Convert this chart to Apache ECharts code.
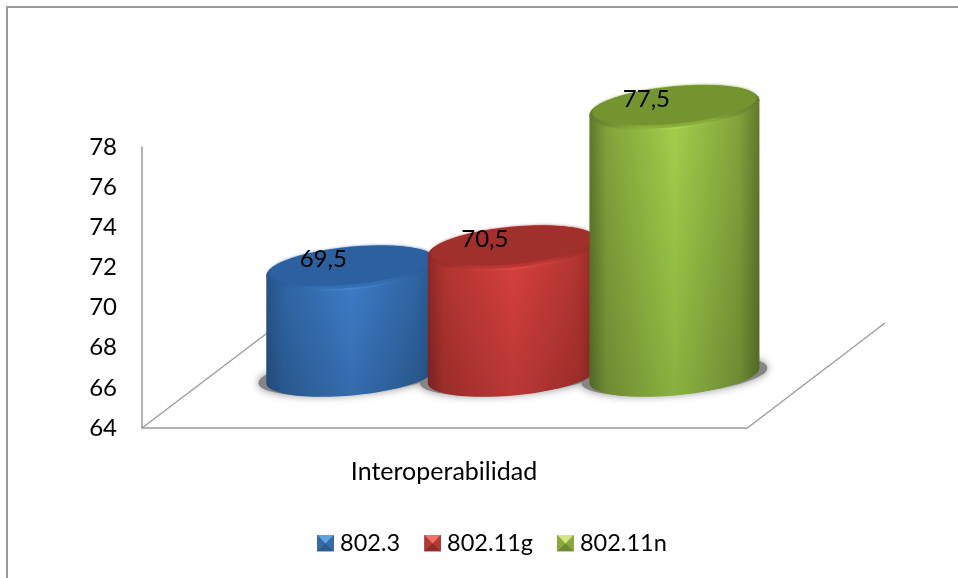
<!DOCTYPE html>
<html>
<head>
<meta charset="utf-8">
<style>html,body{margin:0;padding:0;background:#fff}#c{width:958px;height:578px}</style>
<script src="https://cdn.jsdelivr.net/npm/echarts@6/dist/echarts.min.js"></script>
</head>
<body>
<div id="c"></div>
<script>
var categories = ['Interoperabilidad'];
var seriesNames = ['802.3', '802.11g', '802.11n'];
var values8023 = [69.5];
var values80211g = [70.5];
var values80211n = [77.5];
var seriesValues = [values8023, values80211g, values80211n];
var yTickMin = 64, yTickMax = 78, yTickStep = 2;

var FONT = 'Lato, "Open Sans", sans-serif';
var palettes = [
  {edge:'#27568f', mid:'#3068a6', light:'#3f80cf', face:'#2c609e', rim:'#3570b4', hi:'#4386d2', icon:['#5fa2e6','#386aa6','#2f5c90']},
  {edge:'#8f2926', mid:'#b83632', light:'#dc423e', face:'#a12f2b', rim:'#c23733', hi:'#de4a45', icon:['#f0706a','#b03a36','#8f2d2a']},
  {edge:'#5f7a2d', mid:'#83a53b', light:'#a4d24b', face:'#74942f', rim:'#8bb03c', hi:'#aad64f', icon:['#cfe87e','#8aa83f','#6d8a30']}
];
var RX = 85, RY = 20, SHEAR = 7.5;

function iconFor(p) {
  var svg = '<svg xmlns="http://www.w3.org/2000/svg" width="17" height="17">' +
    '<rect width="17" height="17" fill="' + p.icon[1] + '"/>' +
    '<polygon points="0,0 17,0 8.5,9" fill="' + p.icon[0] + '"/>' +
    '<polygon points="0,17 17,17 8.5,9" fill="' + p.icon[2] + '"/>' +
    '</svg>';
  return 'image://data:image/svg+xml;charset=utf-8,' + encodeURIComponent(svg);
}

function arc(cx, cy, a, b, t0, t1) {
  var pts = [], n = 48;
  for (var i = 0; i <= n; i++) {
    var t = t0 + (t1 - t0) * i / n;
    pts.push([cx + a * Math.cos(t), cy - SHEAR * Math.cos(t) + b * Math.sin(t)]);
  }
  return pts;
}

function hGrad(stops) {
  return {type:'linear', x:0, y:0, x2:1, y2:0, colorStops:stops};
}

function centerX(api, idx) {
  var band = api.size([1, 0])[0];
  var base = api.coord([0, yTickMin])[0];
  return base + band * (0.114 + (idx - 1) * 0.2675);
}

function renderShadow(idx) {
  return function (params, api) {
    var cx = centerX(api, idx);
    var baseY = api.coord([0, yTickMin])[1] - 52.5;
    return {
      type:'polygon', silent:true,
      shape:{points:arc(cx, baseY, RX + 8, RY - 1, 0, Math.PI * 2)},
      style:{fill:'#858585', shadowBlur:9, shadowColor:'#8c8c8c'}
    };
  };
}

function renderCyl(idx) {
  var p = palettes[idx];
  return function (params, api) {
    var v = api.value(1);
    var cx = centerX(api, idx);
    var baseY = api.coord([0, yTickMin])[1] - 52.5;
    var topY = api.coord([0, v])[1] - 49.5;
    var bodyPts = arc(cx, baseY, RX, RY, 0, Math.PI).concat(arc(cx, topY, RX, RY, Math.PI, 2 * Math.PI));
    var label = String(v).replace('.', ',');
    return {
      type:'group',
      children:[
        {type:'polygon', shape:{points:bodyPts},
         style:{fill:hGrad([
           {offset:0, color:p.edge},{offset:0.1, color:p.mid},{offset:0.5, color:p.light},
           {offset:0.88, color:p.mid},{offset:1, color:p.edge}])}},
        {type:'polygon', shape:{points:bodyPts},
         style:{fill:{type:'linear', x:0, y:0, x2:0, y2:1, colorStops:[
           {offset:0, color:'rgba(0,0,0,0)'},{offset:1, color:'rgba(0,0,0,0.16)'}]}}},
        {type:'polygon', shape:{points:arc(cx, topY, RX, RY + 1.5, 0, 2 * Math.PI)},
         style:{fill:hGrad([
           {offset:0, color:p.edge},{offset:0.2, color:p.mid},{offset:0.5, color:p.hi},
           {offset:0.85, color:p.mid},{offset:1, color:p.edge}])}},
        {type:'polygon', shape:{points:arc(cx, topY - 0.5, RX - 1, RY + 0.2, 0, 2 * Math.PI)},
         style:{fill:hGrad([
           {offset:0, color:p.edge},{offset:0.3, color:p.rim},{offset:0.7, color:p.rim},{offset:1, color:p.edge}])}},
        {type:'polygon', shape:{points:arc(cx, topY - 2.5, RX - 3, RY - 1.5, 0, 2 * Math.PI)},
         style:{fill:p.face, shadowBlur:3, shadowColor:p.face}},
        {type:'text',
         style:{text:label, x:cx - 28, y:topY - 8.5, align:'center', verticalAlign:'middle',
                fill:'#000', font:'24px ' + FONT}}
      ]
    };
  };
}

var seriesList = [];
seriesValues.forEach(function (vals, i) {
  seriesList.push({
    name:'sombra ' + seriesNames[i], type:'custom', z:1, silent:true,
    renderItem:renderShadow(i),
    encode:{x:0, y:1},
    data:vals.map(function (v, k) { return [k, v]; })
  });
});
seriesValues.forEach(function (vals, i) {
  seriesList.push({
    name:seriesNames[i], type:'custom', z:3 + i,
    itemStyle:{color:palettes[i].light},
    renderItem:renderCyl(i),
    encode:{x:0, y:1},
    data:vals.map(function (v, k) { return [k, v]; })
  });
});

var lineGray = '#9a9a9a';
var chart = echarts.init(document.getElementById('c'), null, {renderer:'canvas'});
chart.setOption({
  animation:false,
  backgroundColor:'#fff',
  grid:{left:142, right:212, top:147, bottom:150, containLabel:false},
  xAxis:{
    type:'category', data:categories,
    axisTick:{show:false},
    axisLine:{lineStyle:{color:lineGray, width:1.5}},
    axisLabel:{color:'#000', fontFamily:FONT, fontSize:25, margin:31}
  },
  yAxis:{
    type:'value', min:yTickMin, max:yTickMax, interval:yTickStep,
    splitLine:{show:false},
    axisTick:{show:false},
    axisLine:{show:true, lineStyle:{color:lineGray, width:1.5}},
    axisLabel:{color:'#000', fontFamily:FONT, fontSize:24, margin:25, padding:[2,0,0,0]}
  },
  legend:{
    left:317, top:531, padding:0, itemWidth:17, itemHeight:17, itemGap:24,
    selectedMode:false,
    textStyle:{color:'#000', fontFamily:FONT, fontSize:23.5, padding:[0,0,0,1]},
    data:seriesNames.map(function (n, i) { return {name:n, icon:iconFor(palettes[i])}; })
  },
  graphic:[
    {type:'line', z:0, shape:{x1:7, y1:578, x2:7, y2:7}, style:{stroke:lineGray, lineWidth:2}},
    {type:'line', z:0, shape:{x1:6, y1:7, x2:958, y2:7}, style:{stroke:lineGray, lineWidth:2}},
    {type:'line', z:0, shape:{x1:142, y1:428, x2:320, y2:293}, style:{stroke:lineGray, lineWidth:1.3}},
    {type:'line', z:0, shape:{x1:746, y1:429, x2:885, y2:323}, style:{stroke:lineGray, lineWidth:1.3}}
  ],
  series:seriesList
});
</script>
</body>
</html>
